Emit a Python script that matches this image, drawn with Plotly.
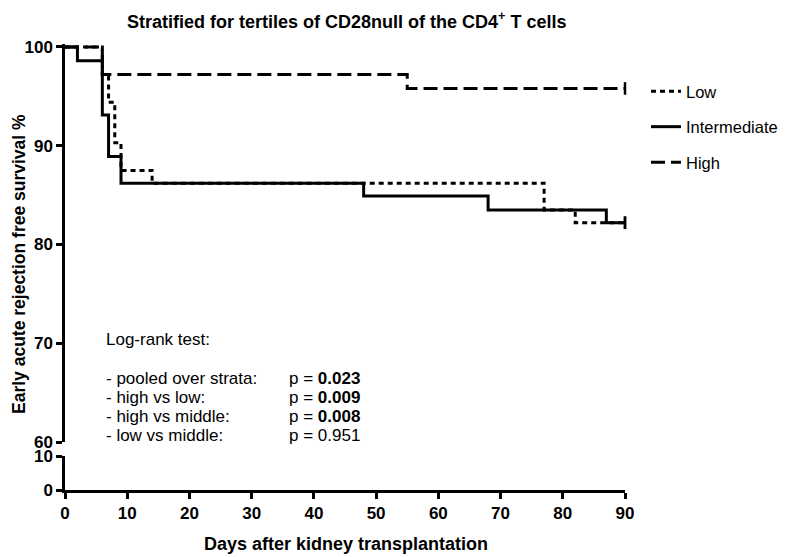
import plotly.graph_objects as go

# ---- data ----
low_days = [0, 6, 7, 8, 9, 14, 77, 82, 90]
low_surv = [100, 97.2, 94.4, 90.3, 87.5, 86.2, 83.5, 82.2, 82.2]
mid_days = [0, 2, 6, 7, 9, 48, 68, 87, 90]
mid_surv = [100, 98.6, 93.1, 88.9, 86.2, 84.9, 83.5, 82.2, 82.2]
high_days = [0, 6, 55, 90]
high_surv = [100, 97.2, 95.8, 95.8]

series_names = ["Low", "Intermediate", "High"]
x_ticks = [0, 10, 20, 30, 40, 50, 60, 70, 80, 90]
y_ticks_upper = [60, 70, 80, 90, 100]
y_ticks_lower = [0, 10]

stats_labels = ["- pooled over strata:", "- high vs low:", "- high vs middle:", "- low vs middle:"]
stats_p = ["<b>0.023</b>", "<b>0.009</b>", "<b>0.008</b>", "0.951"]

# ---- layout geometry (page body has an 8px margin) ----
OFF = 8
W, H = 788 - OFF, 557 - OFF
ML, MR, MT, MB = 57, 163, 36, 67
PW = W - ML - MR
PH = H - MT - MB
BOTTOM = H - MB


def yp(py):
    """screen pixel y -> paper fraction"""
    return (BOTTOM - (py - OFF)) / PH


def xp(px):
    """screen pixel x -> paper fraction"""
    return (px - OFF - ML) / PW


FONT = "Liberation Sans, Arial, sans-serif"

fig = go.Figure()

dashes = ["5px,4px", "solid", "14px,6px"]
all_days = [low_days, mid_days, high_days]
all_surv = [low_surv, mid_surv, high_surv]

for name, d, s, dash in zip(series_names, all_days, all_surv, dashes):
    fig.add_trace(go.Scatter(
        x=d, y=s, mode="lines", name=name, line_shape="hv",
        line=dict(color="black", width=3, dash=dash),
        legendgroup=name, xaxis="x", yaxis="y",
    ))
    # censor tick at end of follow-up
    fig.add_trace(go.Scatter(
        x=[d[-1]], y=[s[-1]], mode="markers", showlegend=False,
        legendgroup=name, xaxis="x", yaxis="y",
        marker=dict(symbol="line-ns-open", size=9, color="black",
                    line=dict(color="black", width=2.5)),
        cliponaxis=False,
    ))

fig.add_trace(go.Scatter(x=[0], y=[0], xaxis="x", yaxis="y2", mode="lines",
                         showlegend=False, hoverinfo="skip",
                         line=dict(color="rgba(0,0,0,0)")))

tickfont = dict(family=FONT, size=17, color="black", weight="bold")
axis_common = dict(ticks="outside", ticklen=6, tickwidth=2.5, tickcolor="black",
                   showline=True, linewidth=2.5, linecolor="black",
                   showgrid=False, zeroline=False, tickfont=tickfont)

fig.update_layout(
    width=W, height=H,
    margin=dict(l=ML, r=MR, t=MT, b=MB, autoexpand=False),
    paper_bgcolor="white", plot_bgcolor="white",
    showlegend=True,
    legend=dict(
        x=xp(646), y=yp(74), xanchor="left", yanchor="top",
        font=dict(family=FONT, size=16.5, color="black"),
        traceorder="grouped", tracegroupgap=11,
        bgcolor="rgba(0,0,0,0)",
    ),
    xaxis=dict(domain=[0, 1], range=[0, 90], anchor="y2",
               tickvals=x_ticks, **axis_common),
    yaxis=dict(domain=[yp(442), 1], range=[60, 100.3], anchor="x",
               tickvals=y_ticks_upper, **axis_common),
    yaxis2=dict(domain=[0, yp(456)], range=[0, 10], anchor="x",
                tickvals=y_ticks_lower, **axis_common),
)

annos = []
annos.append(dict(
    text="Stratified for tertiles of CD28null of the CD4<sup>+</sup> T cells",
    x=xp(346), y=yp(20), xref="paper", yref="paper", showarrow=False,
    xanchor="center", yanchor="middle",
    font=dict(family=FONT, size=18, color="black", weight="bold"),
))
annos.append(dict(
    text="Days after kidney transplantation",
    x=xp(346), y=yp(544), xref="paper", yref="paper", showarrow=False,
    xanchor="center", yanchor="middle",
    font=dict(family=FONT, size=18, color="black", weight="bold"),
))
annos.append(dict(
    text="Early acute rejection free survival %",
    x=xp(19), y=yp(264), xref="paper", yref="paper", showarrow=False,
    xanchor="center", yanchor="middle", textangle=-90,
    font=dict(family=FONT, size=17.5, color="black", weight="bold"),
))
annos.append(dict(
    text="Log-rank test:",
    x=xp(104), y=yp(340), xref="paper", yref="paper", showarrow=False,
    xanchor="left", yanchor="middle",
    font=dict(family=FONT, size=17, color="black"),
))
line_y = [378, 397.5, 416.7, 435.7]
for lab, p, yy in zip(stats_labels, stats_p, line_y):
    annos.append(dict(
        text=lab, x=xp(104), y=yp(yy), xref="paper", yref="paper",
        showarrow=False, xanchor="left", yanchor="middle",
        font=dict(family=FONT, size=17, color="black"),
    ))
    annos.append(dict(
        text="p = " + p, x=xp(287), y=yp(yy), xref="paper", yref="paper",
        showarrow=False, xanchor="left", yanchor="middle",
        font=dict(family=FONT, size=17, color="black"),
    ))
fig.update_layout(annotations=annos)

fig.write_html("out.html")
